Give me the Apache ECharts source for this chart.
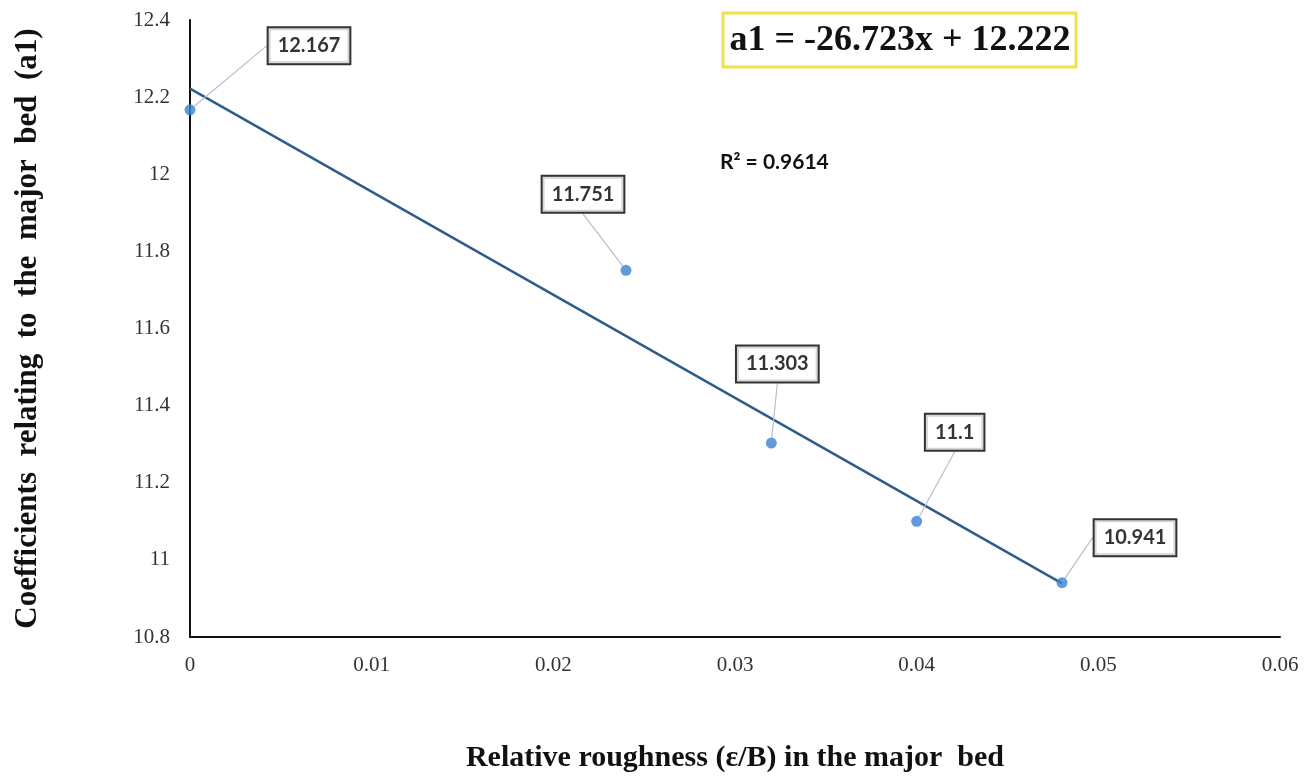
<!DOCTYPE html>
<html>
<head>
<meta charset="utf-8">
<script src="https://cdn.jsdelivr.net/npm/echarts@6/dist/echarts.min.js"></script>
<style>
  html, body { margin: 0; padding: 0; background: #fff; }
  #chart { width: 1308px; height: 776px; }
</style>
</head>
<body>
<div id="chart"></div>
<script>
// ---- data ----
const roughness = [0, 0.024, 0.032, 0.04, 0.048];
const coefA1 = [12.167, 11.751, 11.303, 11.1, 10.941];
const trendX = [0, 0.048];
const trendY = [12.222, 10.939];
const xTicks = [0, 0.01, 0.02, 0.03, 0.04, 0.05, 0.06];
const yTicks = [10.8, 11, 11.2, 11.4, 11.6, 11.8, 12, 12.2, 12.4];
const equationText = 'a1 = -26.723x + 12.222';
const r2Text = 'R² = 0.9614';
const xTitle = 'Relative roughness (ε/B) in the major  bed';
const yTitle = 'Coefficients  relating  to  the  major  bed  (a1)';

// label offsets (layout only)
const labelOffsets = [[119, -64], [-43, -76], [6, -79], [38, -89], [73, -45]];

const chart = echarts.init(document.getElementById('chart'), null, { renderer: 'canvas' });

const serif = '"Liberation Serif", "DejaVu Serif", serif';
const sans = 'Lato, "Open Sans", "Liberation Sans", sans-serif';

chart.setOption({
  backgroundColor: '#ffffff',
  animation: false,
  grid: { left: 190, right: 28, top: 20, bottom: 139, containLabel: false, outerBoundsMode: 'none' },
  xAxis: {
    type: 'value',
    min: 0, max: 0.06, interval: 0.01,
    name: xTitle,
    nameLocation: 'middle',
    nameGap: 106,
    nameTextStyle: { fontFamily: serif, fontWeight: 'bold', fontSize: 30, color: '#111' },
    axisLine: { show: true, lineStyle: { color: '#111', width: 2 } },
    axisTick: { show: false },
    splitLine: { show: false },
    axisLabel: {
      fontFamily: serif, fontSize: 21, color: '#333', margin: 18,
      formatter: v => { const t = xTicks.find(k => Math.abs(k - v) < 1e-9); return t === undefined ? '' : String(t); }
    }
  },
  yAxis: {
    type: 'value',
    min: 10.8, max: 12.4, interval: 0.2,
    name: yTitle,
    nameLocation: 'middle',
    nameGap: 147,
    nameTextStyle: { fontFamily: serif, fontWeight: 'bold', fontSize: 31, color: '#111' },
    axisLine: { show: true, lineStyle: { color: '#111', width: 2 } },
    axisTick: { show: false },
    splitLine: { show: false },
    axisLabel: {
      fontFamily: serif, fontSize: 21, color: '#333', margin: 20,
      formatter: v => { const t = yTicks.find(k => Math.abs(k - v) < 1e-9); return t === undefined ? '' : String(t); }
    }
  },
  graphic: [
    {
      type: 'rect',
      shape: { x: 723, y: 13, width: 353, height: 54 },
      style: { fill: '#fff', stroke: '#efe34a', lineWidth: 3 }
    },
    {
      type: 'text',
      x: 900, y: 41,
      style: {
        text: equationText, fontFamily: serif, fontWeight: 'bold', fontSize: 36,
        fill: '#111', align: 'center', verticalAlign: 'middle'
      }
    },
    {
      type: 'text',
      x: 720, y: 162,
      style: {
        text: r2Text, fontFamily: sans, fontWeight: 'bold', fontSize: 21,
        fill: '#111', align: 'left', verticalAlign: 'middle'
      }
    }
  ],
  series: [
    {
      type: 'line',
      data: trendX.map((x, i) => [x, trendY[i]]),
      symbol: 'none',
      lineStyle: { color: '#2f5d8a', width: 2.5 },
      z: 2,
      silent: true
    },
    {
      type: 'scatter',
      data: roughness.map((x, i) => [x, coefA1[i]]),
      symbolSize: 11,
      itemStyle: { color: '#3a82d2' },
      z: 3,
      label: {
        show: true,
        position: 'inside',
        formatter: p => String(coefA1[p.dataIndex]),
        fontFamily: sans,
        fontWeight: 'bold',
        fontSize: 20,
        color: '#000',
        textBorderWidth: 0,
        textShadowBlur: 0,
        backgroundColor: '#fff',
        borderColor: '#000',
        borderWidth: 2,
        padding: [8, 9, 7, 9]
      },
      labelLine: { show: true, lineStyle: { color: '#b4c0d0', width: 1.2 } },
      labelLayout: p => ({ dx: labelOffsets[p.dataIndex][0], dy: labelOffsets[p.dataIndex][1] })
    }
  ]
});
</script>
</body>
</html>
